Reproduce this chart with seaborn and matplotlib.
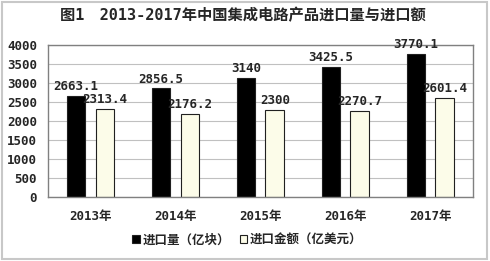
import matplotlib
matplotlib.use("Agg")
import matplotlib.pyplot as plt
import seaborn as sns
import pandas as pd
from matplotlib.patches import Rectangle

years = ["2013年", "2014年", "2015年", "2016年", "2017年"]
volume = [2663.1, 2856.5, 3140, 3425.5, 3770.1]
value = [2313.4, 2176.2, 2300, 2270.7, 2601.4]
volume_labels = ["2663.1", "2856.5", "3140", "3425.5", "3770.1"]
value_labels = ["2313.4", "2176.2", "2300", "2270.7", "2601.4"]
series = ["进口量（亿块）", "进口金额（亿美元）"]
title = "图1　2013-2017年中国集成电路产品进口量与进口额"

df = pd.DataFrame({
    "year": years * 2,
    "val": volume + value,
    "series": [series[0]] * 5 + [series[1]] * 5,
})

sns.set_style("white")
FAM = ["DejaVu Sans Mono", "Noto Sans CJK SC"]
plt.rcParams["font.family"] = FAM
plt.rcParams["font.weight"] = "bold"

fig = plt.figure(figsize=(4.9, 2.61), dpi=100)
fig.patches.append(Rectangle((0.004, 0.006), 0.99, 0.985, transform=fig.transFigure,
                             fill=False, edgecolor="#c8c8c8", linewidth=1.5))
ax = fig.add_axes([0.098, 0.245, 0.867, 0.583])

sns.barplot(data=df, x="year", y="val", hue="series", hue_order=series,
            palette=["#000000", "#ffffe6"], width=0.68, gap=0.35,
            edgecolor="#202020", linewidth=0.8, ax=ax, legend=True)

ax.set_ylim(0, 4000)
ax.set_yticks(range(0, 4001, 500))
ax.grid(axis="y", color="#c0c0c0", linewidth=0.8)
ax.set_axisbelow(True)
for s in ax.spines.values():
    s.set_color("#808080")
    s.set_linewidth(1.0)
ax.set_xlabel("")
ax.set_ylabel("")
ax.tick_params(axis="both", length=0, labelsize=9, pad=3)
for lab in ax.get_xticklabels() + ax.get_yticklabels():
    lab.set_fontweight("bold")
ax.tick_params(axis="x", pad=9)
ax.tick_params(axis="y", pad=8)

for cont, labs in zip(ax.containers, [volume_labels, value_labels]):
    ax.bar_label(cont, labels=labs, padding=2, fontsize=9, fontweight="bold", family=FAM)

handles, labels = ax.get_legend_handles_labels()
ax.get_legend().remove()
fig.legend(handles, labels, loc="center", bbox_to_anchor=(0.505, 0.08), ncol=2,
           frameon=False, prop={"family": FAM, "weight": "bold", "size": 9},
           handlelength=0.6, handleheight=0.6, handletextpad=0.2, columnspacing=0.8)

fig.text(0.495, 0.94, title, ha="center", va="center", fontsize=11, fontweight="bold", family=FAM)

fig.savefig("out.png", dpi=100)
